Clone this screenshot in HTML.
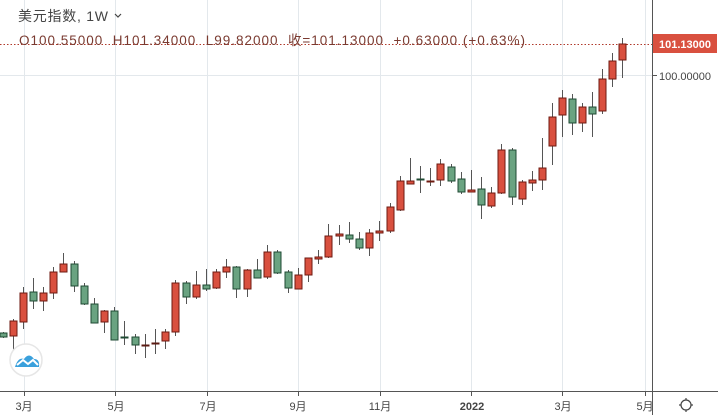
<!DOCTYPE html>
<html><head><meta charset="utf-8"><style>
body{margin:0;background:#fff;width:718px;height:415px;overflow:hidden;font-family:"Liberation Sans","Noto Sans CJK SC",sans-serif}
svg{display:block}
</style></head><body>
<svg id="s" width="718" height="415" xmlns="http://www.w3.org/2000/svg">
<rect width="718" height="415" fill="#fff"/>
<g stroke="#e3e8ec" stroke-width="1">
<line x1="24.5" y1="0" x2="24.5" y2="391"/><line x1="115.5" y1="0" x2="115.5" y2="391"/>
<line x1="207.5" y1="0" x2="207.5" y2="391"/><line x1="298.5" y1="0" x2="298.5" y2="391"/>
<line x1="380.5" y1="0" x2="380.5" y2="391"/><line x1="471.5" y1="0" x2="471.5" y2="391"/>
<line x1="562.5" y1="0" x2="562.5" y2="391"/><line x1="645.5" y1="0" x2="645.5" y2="391"/>
<line x1="0" y1="75.5" x2="652" y2="75.5"/>
</g>
<g id="c"></g>
<line x1="0" y1="44.5" x2="652" y2="44.5" stroke="#b0392b" stroke-width="1" stroke-dasharray="1.5,2"/>
<line x1="652.5" y1="0" x2="652.5" y2="415" stroke="#555" stroke-width="1"/>
<line x1="0" y1="391.5" x2="718" y2="391.5" stroke="#555" stroke-width="1"/>
<g stroke="#555"><line x1="24.5" y1="391" x2="24.5" y2="396"/><line x1="115.5" y1="391" x2="115.5" y2="396"/><line x1="207.5" y1="391" x2="207.5" y2="396"/><line x1="298.5" y1="391" x2="298.5" y2="396"/><line x1="380.5" y1="391" x2="380.5" y2="396"/><line x1="471.5" y1="391" x2="471.5" y2="396"/><line x1="562.5" y1="391" x2="562.5" y2="396"/><line x1="645.5" y1="391" x2="645.5" y2="396"/>
<line x1="652" y1="75.5" x2="657" y2="75.5"/></g>
<g font-size="11" fill="#444" text-anchor="middle">
<text x="24" y="410">3月</text><text x="116" y="410">5月</text><text x="208" y="410">7月</text><text x="298" y="410">9月</text><text x="380" y="410">11月</text><text x="472" y="410" font-weight="bold">2022</text><text x="563" y="410">3月</text><text x="645" y="410">5月</text>
</g>
<text x="659" y="80" font-size="11" fill="#444">100.00000</text>
<rect x="653" y="34" width="64" height="19" fill="#d9503f"/>
<text x="685" y="48" font-size="11" font-weight="bold" fill="#fff" text-anchor="middle">101.13000</text>
<text x="18" y="21" font-size="14" fill="#444" textLength="90" lengthAdjust="spacing">美元指数, 1W</text>
<path d="M115 14 l3 3 l3 -3" stroke="#444" fill="none" stroke-width="1.2"/>
<text x="19" y="45" font-size="13.5" fill="#7a3a30" xml:space="preserve" textLength="506" lengthAdjust="spacing">O100.55000  H101.34000  L99.82000  收=101.13000  +0.63000 (+0.63%)</text>
<circle cx="26" cy="360" r="16" fill="#fff" stroke="#e6e6e6" stroke-width="1.5"/>
<path d="M15 367 q3 -10 9 -8 q5 -7 10 0 q6 0 5 8 z" fill="#3aa0dc"/>
<path d="M17 365 l6 -5 l5 4 l5 -4 l5 5" stroke="#fff" stroke-width="2" fill="none"/>
<circle cx="686" cy="405" r="5" fill="none" stroke="#444" stroke-width="1.2"/>
<g stroke="#444" stroke-width="1.2"><line x1="686" y1="398" x2="686" y2="400"/><line x1="686" y1="410" x2="686" y2="412"/><line x1="679" y1="405" x2="681" y2="405"/><line x1="691" y1="405" x2="693" y2="405"/></g>
</svg>
<script>
var d=[[3,333,337,332,338,0],[13,321,336,319,353,1],[23,293,322,287,329,1],[33,292,301,278,309,0],[43,293,301,287,311,1],[53,272,293,267,299,1],[63,264,272,253,272,1],[74,264,286,261,292,0],[84,286,304,283,305,0],[94,304,323,298,323,0],[104,311,322,310,333,1],[114,311,340,307,340,0],[124,337,337,321,345,0],[135,337,345,334,354,0],[145,345,345,334,358,2],[155,343,343,329,354,2],[165,332,341,329,349,1],[175,283,332,280,336,1],[186,283,297,281,304,0],[196,285,297,271,299,1],[206,285,289,269,291,0],[216,272,288,269,289,1],[226,267,272,259,278,1],[236,267,289,266,298,0],[247,270,289,269,297,1],[257,270,278,259,278,0],[267,252,277,245,279,1],[277,252,273,250,274,0],[288,272,288,270,293,0],[298,275,289,268,289,1],[308,258,275,258,282,1],[318,257,259,250,264,1],[328,236,257,224,258,1],[339,234,236,225,245,1],[349,235,239,222,243,0],[359,239,248,232,250,0],[369,233,248,229,256,1],[379,231,233,221,241,1],[390,207,231,203,233,1],[400,181,210,176,211,1],[410,181,184,158,184,1],[420,179,180,166,193,0],[430,181,182,168,186,1],[440,164,180,159,186,1],[451,167,181,164,183,0],[461,179,192,172,194,0],[471,190,192,170,192,1],[481,189,205,177,219,0],[491,193,206,187,208,1],[501,150,193,144,194,1],[512,150,197,148,205,0],[522,182,199,180,205,1],[532,180,183,171,191,1],[542,168,180,138,190,1],[552,117,146,103,165,1],[562,98,115,90,137,1],[572,99,123,94,135,0],[582,107,123,103,132,1],[592,107,114,92,137,0],[602,79,111,69,114,1],[612,61,79,53,87,1],[622,44,60,38,78,1]];
var g=document.getElementById('c'),h='';
d.forEach(function(c){var x=c[0],fill,st;
if(c[5]==1){fill='#d9503f';st='#6e1a10'}else if(c[5]==0){fill='#6aa381';st='#1f4a33'}else{fill='#5a1a12';st='#5a1a12'}
h+='<line x1="'+(x+.5)+'" y1="'+c[3]+'" x2="'+(x+.5)+'" y2="'+c[4]+'" stroke="#555" stroke-width="1"/>';
var bh=Math.max(c[2]-c[1],1);
h+='<rect x="'+(x-3)+'" y="'+c[1]+'" width="7" height="'+bh+'" fill="'+fill+'" stroke="'+st+'" stroke-width="1"/>';});
g.innerHTML=h;
</script>
</body></html>
